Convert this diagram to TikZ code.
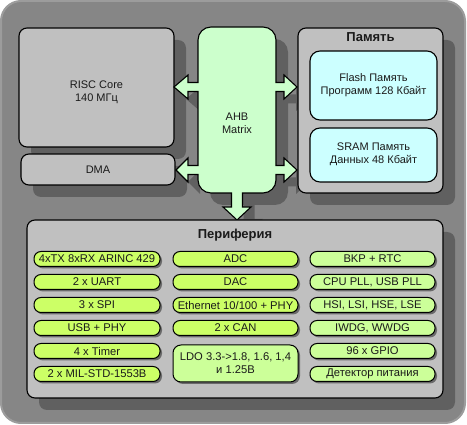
\documentclass[tikz,border=0pt]{standalone}
\usepackage{fontspec}
\setmainfont{Liberation Sans}
\usetikzlibrary{shadows}
\definecolor{bgc}{HTML}{868686}
\definecolor{bgedge}{HTML}{9C9C9C}
\definecolor{shc}{HTML}{606060}
\definecolor{pshc}{HTML}{6A6A6A}
\definecolor{boxc}{HTML}{C0C0C0}
\definecolor{matc}{HTML}{CCFFCC}
\definecolor{memc}{HTML}{CCFFFF}
\definecolor{pilla}{HTML}{CCFF66}
\definecolor{pillb}{HTML}{CCFF99}
\definecolor{txt}{HTML}{1A1A1A}
\newcommand{\fsz}[1]{\fontsize{#1pt}{13pt}\selectfont}
\begin{document}
\begin{tikzpicture}[x=1pt,y=-1pt,
  bigshadow/.style={drop shadow={shadow xshift=12pt,shadow yshift=-12pt,fill=shc,opacity=1}},
  bigbox/.style={draw=black, line width=1.1pt, fill=boxc, rounded corners=8pt, inner sep=0pt, bigshadow},
  membox/.style={draw=black, line width=1.1pt, fill=memc, rounded corners=10pt, inner sep=0pt, minimum width=127pt},
  lbl/.style={text=txt, font=\fsz{11}, align=center, inner sep=0pt},
  ttl/.style={text=txt, font=\fsz{13}\bfseries, inner sep=0pt},
  pill/.style={draw=black, line width=1pt, rounded corners=7pt, minimum width=125pt, minimum height=15pt, inner sep=0pt,
    text=txt, font=\fsz{11.2},
    drop shadow={shadow xshift=2pt,shadow yshift=-2pt,fill=pshc,opacity=1}},
  pa/.style={pill, fill=pilla},
  pb/.style={pill, fill=pillb}
]
\useasboundingbox (0,0) rectangle (467,425);
% outer background
\fill[bgc, draw=bgedge, line width=2pt, rounded corners=20pt] (1,1) rectangle (465,423);

% RISC core and DMA
\node[bigbox, minimum width=155pt, minimum height=119pt] (risc) at (96.5,87.5) {};
\node[lbl] (risct) at (96.5,92.5) {RISC Core\\140 МГц};
\node[bigbox, minimum width=154pt, minimum height=31pt] (dma) at (98,169.5) {};
\node[lbl] (dmat) at (98,170) {DMA};

% AHB matrix with block arrows
\path[draw=black, line width=1.1pt, fill=matc, bigshadow]
  (211,27) -- (263,27) .. controls (270.2,27) and (276,32.8) .. (276,40)
  -- (276,82.5) -- (284,82.5) -- (284,75) -- (297,87) -- (284,99) -- (284,91.5) -- (276,91.5)
  -- (276,165.5) -- (284,165.5) -- (284,158) -- (297,170) -- (284,182) -- (284,174.5) -- (276,174.5)
  -- (276,180) .. controls (276,187.2) and (270.2,193) .. (263,193)
  -- (242.5,193) -- (242.5,207) -- (251,207) -- (237,220) -- (223,207) -- (231.5,207) -- (231.5,193)
  -- (211,193) .. controls (203.8,193) and (198,187.2) .. (198,180)
  -- (198,174.5) -- (188,174.5) -- (188,182) -- (176,170) -- (188,158) -- (188,165.5) -- (198,165.5)
  -- (198,91.5) -- (188,91.5) -- (188,99) -- (174,87) -- (188,75) -- (188,82.5) -- (198,82.5)
  -- (198,40) .. controls (198,32.8) and (203.8,27) .. (211,27) -- cycle;
\node[lbl] (ahb) at (237,123) {AHB\\Matrix};

% Memory
\node[bigbox, minimum width=145pt, minimum height=165pt] (mem) at (370.5,110.5) {};
\node[ttl] (memt) at (370.5,37) {Память};
\node[membox, minimum height=69pt] (flash) at (373.5,85.5) {};
\node[lbl] (flasht) at (373.5,85.5) {Flash Память\\Программ 128 Кбайт};
\node[membox, minimum height=54pt] (sram) at (373.5,155) {};
\node[lbl] (sramt) at (373.5,154.5) {SRAM Память\\Данных 48 Кбайт};

% Periphery
\node[bigbox, minimum width=416pt, minimum height=178pt] (per) at (235,309) {};
\node[ttl] (pert) at (235,235.5) {Периферия};

\node[pa, minimum width=126pt] (p11) at (97,259) {4xTX 8xRX ARINC 429};
\node[pa, minimum width=126pt] (p12) at (97,282) {2 x UART};
\node[pa, minimum width=126pt] (p13) at (97,305) {3 x SPI};
\node[pa, minimum width=126pt] (p14) at (97,328) {USB + PHY};
\node[pa, minimum width=126pt] (p15) at (97,351) {4 x Timer};
\node[pa, minimum width=126pt] (p16) at (97,374) {2 x MIL-STD-1553B};

\node[pa] (p21) at (235.5,259) {ADC};
\node[pa] (p22) at (235.5,282) {DAC};
\node[pa] (p23) at (235.5,305) {Ethernet 10/100 + PHY};
\node[pa] (p24) at (235.5,328) {2 x CAN};
\node[pb, rounded corners=8pt, minimum height=37pt, align=center] (p25) at (235.5,363.5) {LDO 3.3->1.8, 1.6, 1,4\\и 1.25В};

\node[pb] (p31) at (372.5,259) {BKP + RTC};
\node[pb] (p32) at (372.5,282) {CPU PLL, USB PLL};
\node[pb] (p33) at (372.5,305) {HSI, LSI, HSE, LSE};
\node[pb] (p34) at (372.5,328) {IWDG, WWDG};
\node[pb] (p35) at (372.5,351) {96 x GPIO};
\node[pb] (p36) at (372.5,374) {Детектор питания};
\end{tikzpicture}
\end{document}
